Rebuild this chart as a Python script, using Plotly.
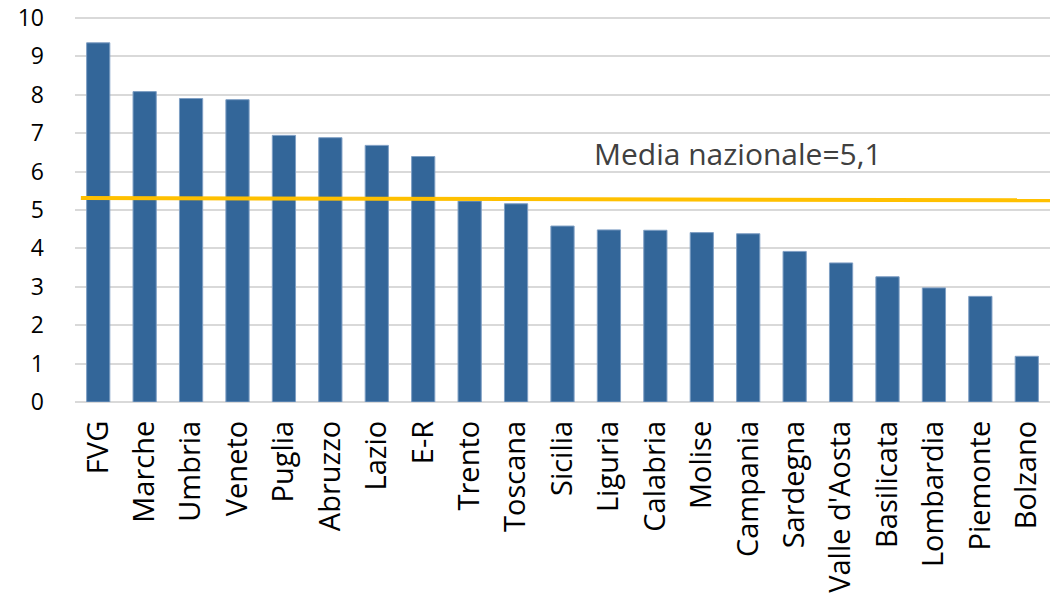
import plotly.graph_objects as go

regions = ["FVG", "Marche", "Umbria", "Veneto", "Puglia", "Abruzzo", "Lazio", "E-R",
           "Trento", "Toscana", "Sicilia", "Liguria", "Calabria", "Molise", "Campania",
           "Sardegna", "Valle d'Aosta", "Basilicata", "Lombardia", "Piemonte", "Bolzano"]
values = [9.35, 8.08, 7.90, 7.87, 6.94, 6.88, 6.68, 6.39,
          5.23, 5.16, 4.58, 4.48, 4.47, 4.41, 4.38,
          3.92, 3.62, 3.26, 2.97, 2.75, 1.19]
y_ticks = [0, 1, 2, 3, 4, 5, 6, 7, 8, 9, 10]
media_line = [5.31, 5.25]   # drawn level of the "national average" line (left, right end)
media_label = "Media nazionale=5,1"

fig = go.Figure()
fig.add_trace(go.Bar(
    x=regions, y=values,
    marker=dict(color="#336699", line=dict(color="#7f9fc4", width=1)),
    width=0.5,
))

fig.add_shape(type="line", xref="paper", yref="y",
              x0=0.006, x1=1.0, y0=media_line[0], y1=media_line[1],
              line=dict(color="#FFC000", width=4), layer="above")

fig.add_annotation(xref="paper", yref="y", x=0.68, y=6.48, text=media_label,
                   xanchor="center", yanchor="middle",
                   showarrow=False, font=dict(family="Open Sans", size=30, color="#404040"))

fig.update_layout(
    width=1053, height=593,
    margin=dict(l=75, r=3, t=14, b=191),
    paper_bgcolor="white", plot_bgcolor="white",
    showlegend=False,
    bargap=0.5,
)
fig.update_xaxes(
    tickangle=-90, tickfont=dict(family="Open Sans", size=29, color="black"),
    showgrid=False, showline=False, ticks="", ticklabelstandoff=12,
    range=[-0.5, len(regions) - 0.5], automargin=False, ticklabeloverflow="allow",
)
fig.update_yaxes(
    range=[0, 10.1], tickvals=y_ticks, ticktext=[str(v) for v in y_ticks],
    tickfont=dict(family="Open Sans", size=23, color="black"),
    showgrid=True, gridcolor="#d9d9d9", gridwidth=1.5,
    zeroline=True, zerolinecolor="#d9d9d9", zerolinewidth=2,
    showline=False, ticks="", ticklabelstandoff=30, automargin=False,
    ticklabeloverflow="allow",
)

fig.write_html("out.html", config={"displayModeBar": False},
               post_script="document.body.style.margin='0px';document.body.style.overflow='hidden';")
